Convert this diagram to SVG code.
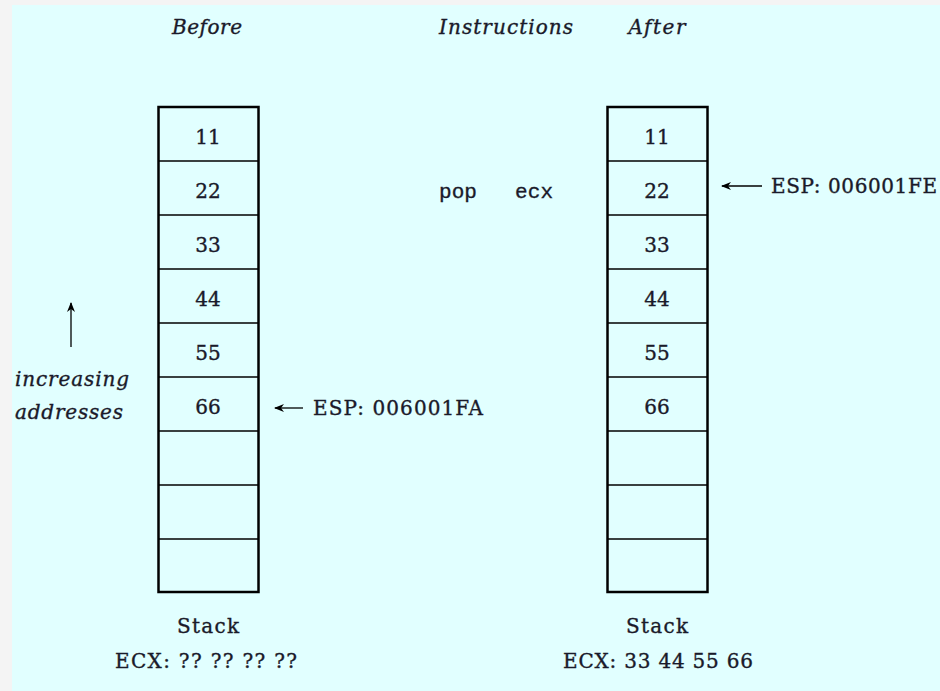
<svg xmlns="http://www.w3.org/2000/svg" width="940" height="691" viewBox="0 0 940 691">
<defs>
<marker id="ah" viewBox="0 0 10 10" refX="9" refY="5" markerWidth="10" markerHeight="10" markerUnits="userSpaceOnUse" orient="auto">
<path d="M0,1 L10,5 L0,9 L3,5 Z" fill="#000"/>
</marker>
</defs>
<style>
text{font-family:"DejaVu Serif","Liberation Serif",serif;fill:#1a1a2a;stroke:#1a1a2a;stroke-width:0.35;}
.it{font-style:italic;font-size:20px;}
.num{font-size:20px;text-anchor:middle;}
.lbl{font-size:20px;}
.mono{font-family:"Liberation Mono","DejaVu Sans Mono",monospace;font-size:21px;}
.outer{fill:none;stroke:#000;stroke-width:2.5;}
.row{stroke:#000;stroke-width:1.3;}
.conn{stroke:#000;stroke-width:1.3;fill:none;marker-end:url(#ah);}
</style>
<rect x="0" y="0" width="940" height="691" fill="#f4f4f4"/>
<rect x="12" y="5" width="928" height="686" fill="#e1ffff"/>

<g id="titles">
<text class="it" x="207" y="34" text-anchor="middle" textLength="70">Before</text>
<text class="it" x="506" y="34" text-anchor="middle" textLength="134">Instructions</text>
<text class="it" x="657" y="34" text-anchor="middle" textLength="57">After</text>
</g>

<g id="stack-before">
<rect class="outer" x="158.5" y="107" width="100" height="485"/>
<line class="row" x1="158" y1="161" x2="259" y2="161"/>
<line class="row" x1="158" y1="215" x2="259" y2="215"/>
<line class="row" x1="158" y1="269" x2="259" y2="269"/>
<line class="row" x1="158" y1="323" x2="259" y2="323"/>
<line class="row" x1="158" y1="377" x2="259" y2="377"/>
<line class="row" x1="158" y1="431" x2="259" y2="431"/>
<line class="row" x1="158" y1="485" x2="259" y2="485"/>
<line class="row" x1="158" y1="539" x2="259" y2="539"/>
<text class="num" x="208" y="144">11</text>
<text class="num" x="208" y="198">22</text>
<text class="num" x="208" y="252">33</text>
<text class="num" x="208" y="306">44</text>
<text class="num" x="208" y="360">55</text>
<text class="num" x="208" y="414">66</text>
<text class="lbl" x="208" y="633" text-anchor="middle" textLength="62">Stack</text>
<text class="lbl" x="206" y="668" text-anchor="middle" textLength="182">ECX: ?? ?? ?? ??</text>
</g>

<g id="stack-after">
<rect class="outer" x="607.5" y="107" width="100" height="485"/>
<line class="row" x1="607" y1="161" x2="708" y2="161"/>
<line class="row" x1="607" y1="215" x2="708" y2="215"/>
<line class="row" x1="607" y1="269" x2="708" y2="269"/>
<line class="row" x1="607" y1="323" x2="708" y2="323"/>
<line class="row" x1="607" y1="377" x2="708" y2="377"/>
<line class="row" x1="607" y1="431" x2="708" y2="431"/>
<line class="row" x1="607" y1="485" x2="708" y2="485"/>
<line class="row" x1="607" y1="539" x2="708" y2="539"/>
<text class="num" x="657" y="144">11</text>
<text class="num" x="657" y="198">22</text>
<text class="num" x="657" y="252">33</text>
<text class="num" x="657" y="306">44</text>
<text class="num" x="657" y="360">55</text>
<text class="num" x="657" y="414">66</text>
<text class="lbl" x="657" y="633" text-anchor="middle" textLength="62">Stack</text>
<text class="lbl" x="658" y="668" text-anchor="middle" textLength="190">ECX: 33 44 55 66</text>
</g>

<g id="instruction">
<text class="mono" x="439" y="198" textLength="114" xml:space="preserve">pop   ecx</text>
</g>

<g id="esp-before">
<text class="lbl" x="313" y="415" textLength="170">ESP: 006001FA</text>
</g>
<g id="esp-after">
<text class="lbl" x="771" y="193" textLength="166">ESP: 006001FE</text>
</g>
<g id="address-label">
<text class="it" x="15" y="386" textLength="114">increasing</text>
<text class="it" x="15" y="419" textLength="108">addresses</text>
</g>

<g id="connectors">
<line class="conn" x1="303" y1="408" x2="275" y2="408"/>
<line class="conn" x1="762" y1="186" x2="722" y2="186"/>
<line class="conn" x1="71" y1="347" x2="71" y2="303"/>
</g>
</svg>
